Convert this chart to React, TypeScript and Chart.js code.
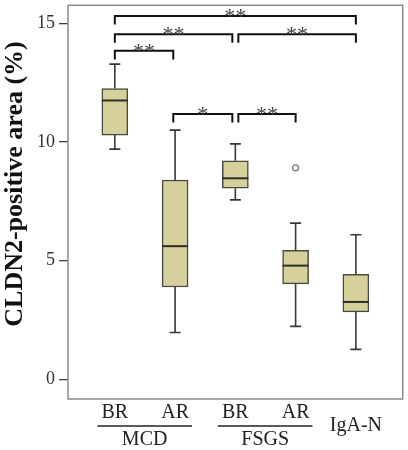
import React, { useEffect, useRef } from "react";
import { Chart, registerables } from "chart.js";

Chart.register(...registerables);

// Groups along the x axis
const categories = ["BR", "AR", "BR", "AR", "IgA-N"];
const groupNames = ["MCD", "FSGS"];
const groupFrom = [0, 2];
const groupTo = [1, 3];

// Box plot summary (% CLDN2-positive area)
const whiskerLow = [9.7, 1.97, 7.56, 2.23, 1.26];
const q1 = [10.29, 3.89, 8.05, 4.02, 2.84];
const median = [11.75, 5.61, 8.47, 4.79, 3.26];
const q3 = [12.25, 8.4, 9.21, 5.43, 4.42];
const whiskerHigh = [13.28, 10.5, 9.92, 6.58, 6.09];

// Outliers: category index and value
const outlierX = [3];
const outlierY = [8.91];

// Significance brackets
const bracketFrom = [0, 0, 2.05, 0, 0.97, 2.05];
const bracketTo = [4, 1.95, 4, 0.97, 1.95, 3];
const bracketY = [15.31, 14.54, 14.54, 13.84, 11.18, 11.18];
const bracketLabels = ["**", "**", "**", "**", "*", "**"];
const bracketDrop = 0.36;

const yTicks = [0, 5, 10, 15];

const SERIF = "'Liberation Serif', 'Times New Roman', serif";

const boxPlotPlugin = {
  id: "boxExtras",
  beforeDatasetsDraw(chart: any) {
    const { ctx, scales } = chart;
    const x = scales.x;
    const y = scales.y;
    ctx.save();
    ctx.strokeStyle = "#3a3a32";
    ctx.lineWidth = 1.6;
    const cap = 5.5;
    categories.forEach((_, i) => {
      const px = x.getPixelForValue(i);
      const hi = y.getPixelForValue(whiskerHigh[i]);
      const lo = y.getPixelForValue(whiskerLow[i]);
      const top = y.getPixelForValue(q3[i]);
      const bot = y.getPixelForValue(q1[i]);
      ctx.beginPath();
      ctx.moveTo(px, top);
      ctx.lineTo(px, hi);
      ctx.moveTo(px - cap, hi);
      ctx.lineTo(px + cap, hi);
      ctx.moveTo(px, bot);
      ctx.lineTo(px, lo);
      ctx.moveTo(px - cap, lo);
      ctx.lineTo(px + cap, lo);
      ctx.stroke();
    });
    ctx.restore();
  },
  afterDatasetsDraw(chart: any) {
    const { ctx, scales, chartArea } = chart;
    const x = scales.x;
    const y = scales.y;
    ctx.save();
    // medians
    ctx.strokeStyle = "#2e2e26";
    ctx.lineWidth = 2;
    categories.forEach((_, i) => {
      const px = x.getPixelForValue(i);
      const m = y.getPixelForValue(median[i]);
      ctx.beginPath();
      ctx.moveTo(px - 13, m);
      ctx.lineTo(px + 13, m);
      ctx.stroke();
    });

    // significance brackets
    ctx.strokeStyle = "#111";
    ctx.lineWidth = 2;
    bracketFrom.forEach((from, k) => {
      const x1 = x.getPixelForValue(from);
      const x2 = x.getPixelForValue(bracketTo[k]);
      const yy = y.getPixelForValue(bracketY[k]);
      const yd = y.getPixelForValue(bracketY[k] - bracketDrop);
      ctx.beginPath();
      ctx.moveTo(x1, yd);
      ctx.lineTo(x1, yy);
      ctx.lineTo(x2, yy);
      ctx.lineTo(x2, yd);
      ctx.stroke();
      ctx.fillStyle = "#444";
      ctx.font = `22px ${SERIF}`;
      ctx.textAlign = "center";
      ctx.textBaseline = "alphabetic";
      ctx.fillText(bracketLabels[k], (x1 + x2) / 2, yy + 7);
    });

    // frame around the plot area
    ctx.strokeStyle = "#8a8a8a";
    ctx.lineWidth = 1.5;
    ctx.strokeRect(chartArea.left, chartArea.top, chartArea.right - chartArea.left, chartArea.bottom - chartArea.top);

    // category labels and group underlines
    ctx.fillStyle = "#222";
    ctx.font = `20px ${SERIF}`;
    ctx.textAlign = "center";
    ctx.textBaseline = "middle";
    const b = chartArea.bottom;
    categories.forEach((c, i) => {
      const px = x.getPixelForValue(i);
      const isGrouped = groupFrom.some((g, j) => i >= g && i <= groupTo[j]);
      ctx.fillText(c, px, isGrouped ? b + 14 : b + 27);
    });
    ctx.strokeStyle = "#222";
    ctx.lineWidth = 1.3;
    groupNames.forEach((g, j) => {
      const xa = x.getPixelForValue(groupFrom[j] - 0.29);
      const xb = x.getPixelForValue(groupTo[j] + 0.28);
      ctx.beginPath();
      ctx.moveTo(xa, b + 27);
      ctx.lineTo(xb, b + 27);
      ctx.stroke();
      ctx.fillText(g, (xa + xb) / 2, b + 41);
    });

    // y axis title
    ctx.save();
    ctx.translate(15, 184);
    ctx.rotate(-Math.PI / 2);
    ctx.font = `bold 26px ${SERIF}`;
    ctx.fillStyle = "#111";
    ctx.fillText("CLDN2-positive area (%)", 0, 0);
    ctx.restore();

    ctx.restore();
  },
};

export default function App() {
  const canvasRef = useRef<HTMLCanvasElement | null>(null);

  useEffect(() => {
    if (!canvasRef.current) return;
    const chart = new Chart(canvasRef.current, {
      type: "bar",
      data: {
        datasets: [
          {
            type: "bar",
            data: categories.map((_, i) => ({ x: i, y: [q1[i], q3[i]] })) as any,
            backgroundColor: "#d6d19c",
            borderColor: "#4a4a3c",
            borderWidth: 1.5,
            borderSkipped: false,
            barThickness: 26,
          } as any,
          {
            type: "scatter",
            data: outlierX.map((xv, i) => ({ x: xv, y: outlierY[i] })),
            pointRadius: 3,
            pointBackgroundColor: "#ffffff",
            pointBorderColor: "#7a7a7a",
            pointBorderWidth: 1.3,
          } as any,
        ],
      },
      options: {
        animation: false,
        responsive: true,
        maintainAspectRatio: false,
        layout: { padding: { left: 0, top: 4, right: 4, bottom: 51 } },
        plugins: { legend: { display: false }, tooltip: { enabled: false } },
        scales: {
          x: {
            type: "linear",
            min: -0.777,
            max: 4.777,
            offset: false,
            display: false,
          },
          y: {
            type: "linear",
            min: -0.83,
            max: 15.76,
            afterBuildTicks: (axis: any) => {
              axis.ticks = yTicks.map((v) => ({ value: v }));
            },
            afterFit: (scale: any) => {
              scale.width = 68;
              scale.paddingTop = 0;
              scale.paddingBottom = 0;
            },
            ticks: {
              color: "#333",
              padding: 4,
              font: { family: SERIF, size: 18 },
            },
            grid: {
              drawOnChartArea: false,
              drawTicks: true,
              tickLength: 9,
              color: "#444",
              lineWidth: 1.3,
            },
            border: { display: false },
          },
        },
      },
      plugins: [boxPlotPlugin],
    });
    return () => chart.destroy();
  }, []);

  return (
    <div style={{ position: "absolute", left: 0, top: 0, width: 408, height: 450, background: "#fff" }}>
      <canvas ref={canvasRef} />
    </div>
  );
}
